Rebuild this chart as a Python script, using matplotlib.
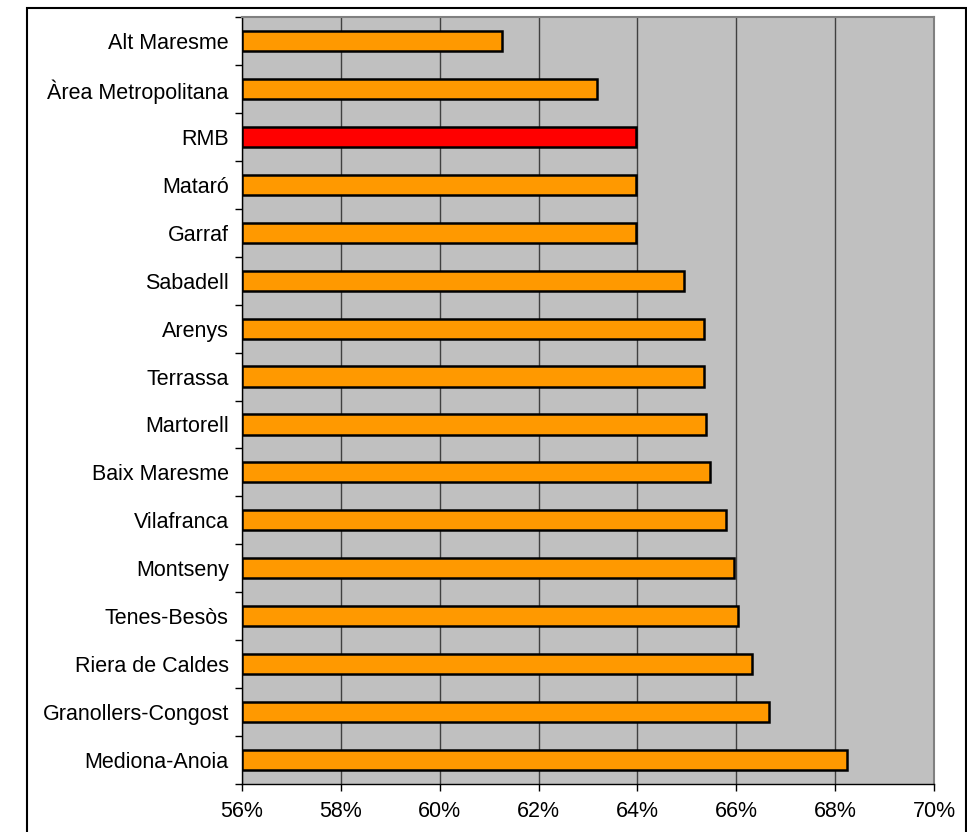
import matplotlib
matplotlib.use("Agg")
import matplotlib.pyplot as plt
from matplotlib.patches import Rectangle
from matplotlib.ticker import FuncFormatter, FixedLocator

categories = ["Alt Maresme", "Àrea Metropolitana", "RMB", "Mataró", "Garraf",
              "Sabadell", "Arenys", "Terrassa", "Martorell", "Baix Maresme",
              "Vilafranca", "Montseny", "Tenes-Besòs", "Riera de Caldes",
              "Granollers-Congost", "Mediona-Anoia"]
values = [61.27, 63.19, 63.97, 63.97, 63.97, 64.95, 65.35, 65.35, 65.39, 65.47,
          65.79, 65.96, 66.04, 66.32, 66.67, 68.24]
highlight = "RMB"
xticks = [56, 58, 60, 62, 64, 66, 68, 70]

plt.rcParams['font.family'] = ['Liberation Sans', 'DejaVu Sans']

W, H = 967, 832
fig = plt.figure(figsize=(W / 100, H / 100), dpi=100)
ax = fig.add_axes([242 / W, 1 - 784 / H, (934 - 242) / W, (784 - 17) / H])

ax.set_facecolor('#C0C0C0')
colors = ['#FF0000' if c == highlight else '#FF9900' for c in categories]
ypos = list(range(len(categories)))
ax.barh(ypos, [v - 56 for v in values], left=56, height=0.42, color=colors,
        edgecolor='black', linewidth=1.8, zorder=3)

ax.set_xlim(56, 70)
ax.set_ylim(len(categories) - 0.5, -0.5)
ax.xaxis.set_major_locator(FixedLocator(xticks))
ax.xaxis.set_major_formatter(FuncFormatter(lambda v, p: f"{int(round(v))}%"))
ax.grid(axis='x', color='#404040', linewidth=1.0, zorder=1)
ax.set_axisbelow(True)

ax.set_yticks(ypos)
ax.set_yticklabels(categories)
ax.yaxis.set_minor_locator(FixedLocator([i - 0.5 for i in range(len(categories) + 1)]))
ax.tick_params(axis='y', which='major', length=0, pad=9.5, labelsize=15.5)
ax.tick_params(axis='y', which='minor', length=5, width=1, direction='out', color='black')
ax.tick_params(axis='x', which='major', length=5, width=1, direction='out', pad=7, labelsize=15.5)

for s in ['top', 'right']:
    ax.spines[s].set_color('#808080')
    ax.spines[s].set_linewidth(1.5)
ax.spines['left'].set_color('black')
ax.spines['bottom'].set_color('black')
ax.spines['left'].set_linewidth(1)
ax.spines['bottom'].set_linewidth(1)

fig.add_artist(Rectangle((27 / W, -0.05), (966 - 27) / W, 1.05 - 8 / H,
                         transform=fig.transFigure, fill=False,
                         edgecolor='black', linewidth=1.5))

fig.savefig("out.png", dpi=100)
